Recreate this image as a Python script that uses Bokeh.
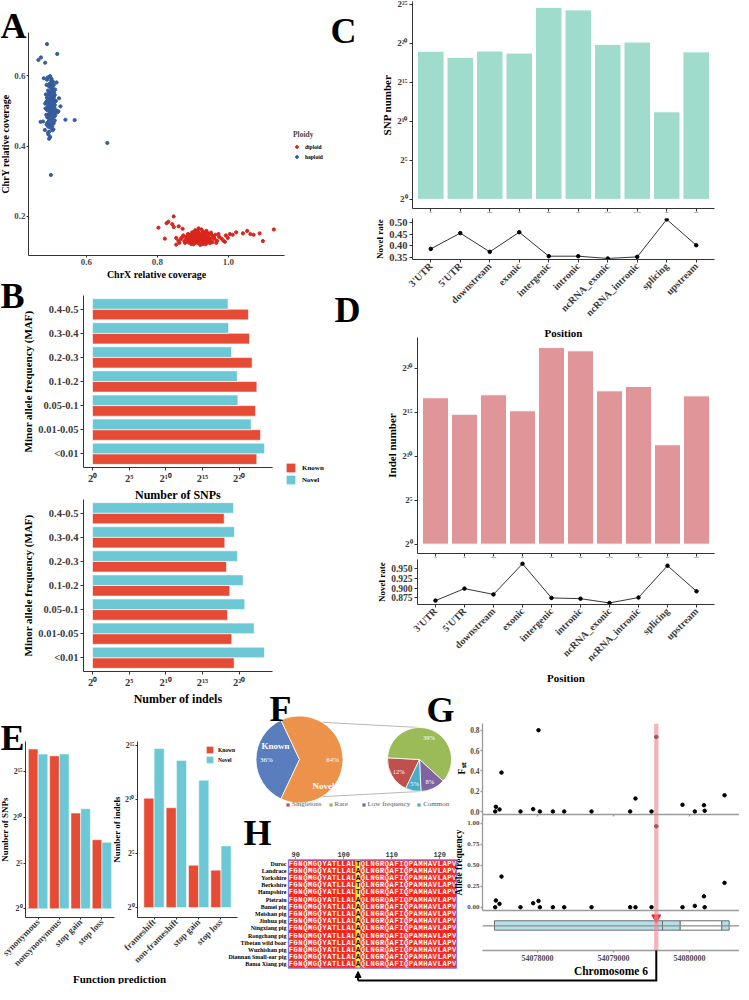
import math
from bokeh.plotting import figure
from bokeh.models import (Range1d, FactorRange, FixedTicker, Legend, LegendItem,
                          Arrow, NormalHead, BoxAnnotation, Span, ColumnDataSource,
                          PrintfTickFormatter)
from bokeh.layouts import column
from bokeh.transform import dodge
from bokeh.core.properties import value
from bokeh.embed import file_html
from bokeh.resources import INLINE

SERIF = "Liberation Serif"
MONO = "Liberation Mono"

# ---------------- Panel A data ----------------
HAPLOID_X = [0.497,0.503,0.491,0.508,0.495,0.501,0.489,0.512,0.499,0.505,
             0.493,0.507,0.496,0.502,0.488,0.510,0.494,0.500,0.506,0.492,
             0.498,0.504,0.490,0.511,0.496,0.503,0.487,0.509,0.495,0.501,
             0.493,0.506,0.499,0.485,0.514,0.497,0.502,0.490,0.508,0.494,
             0.500,0.505,0.492,0.498,0.511,0.489,0.503,0.496,0.507,0.493,
             0.499,0.504,0.491,0.510,0.497,0.486,0.502,0.495,0.508,0.500,
             0.494,0.506,0.490,0.503,0.498,0.512,0.493,0.501,0.488,0.505,
             0.497,0.509,0.492,0.500,0.504,0.496,0.491,0.507,0.499,0.494,
             0.502,0.515,0.489,0.498,0.506,0.493,0.501,0.510,0.495,0.503,
             0.487,0.508,0.497,0.492,0.504,0.500,0.518,0.496,0.511,0.484,
             0.471,0.478,0.521,0.527,0.541,0.567,0.659,0.500,0.489,0.472,
             0.465,0.484,0.518,0.523,0.480,0.516,0.483]
HAPLOID_Y = [0.512,0.498,0.535,0.521,0.478,0.556,0.503,0.487,0.529,0.467,
             0.548,0.541,0.493,0.582,0.461,0.509,0.571,0.452,0.563,0.519,
             0.487,0.531,0.544,0.473,0.597,0.515,0.526,0.553,0.441,0.504,
             0.468,0.489,0.576,0.507,0.528,0.459,0.539,0.482,0.574,0.523,
             0.495,0.445,0.558,0.536,0.517,0.589,0.476,0.549,0.501,0.433,
             0.566,0.457,0.512,0.493,0.525,0.547,0.591,0.472,0.538,0.518,
             0.501,0.583,0.466,0.543,0.426,0.561,0.490,0.533,0.574,0.509,
             0.551,0.484,0.529,0.462,0.569,0.507,0.595,0.448,0.543,0.516,
             0.478,0.502,0.537,0.599,0.528,0.455,0.587,0.531,0.421,0.491,
             0.489,0.465,0.578,0.438,0.552,0.536,0.496,0.533,0.545,0.521,
             0.469,0.470,0.499,0.513,0.475,0.474,0.409,0.318,0.690,0.652,
             0.645,0.637,0.662,0.536,0.593,0.581,0.446]
DIPLOID_X = [0.912,0.925,0.903,0.937,0.918,0.896,0.931,0.908,0.946,0.921,
             0.889,0.914,0.928,0.953,0.899,0.935,0.917,0.881,0.942,0.906,
             0.924,0.961,0.893,0.929,0.911,0.873,0.948,0.919,0.902,0.938,
             0.915,0.884,0.932,0.957,0.897,0.926,0.909,0.866,0.944,0.921,
             0.891,0.934,0.968,0.905,0.916,0.878,0.940,0.923,0.899,0.951,
             0.913,0.930,0.886,0.947,0.907,0.974,0.920,0.894,0.936,0.859,
             0.927,0.901,0.955,0.918,0.882,0.943,0.910,0.933,0.963,0.895,
             0.924,0.869,0.939,0.904,0.981,0.916,0.928,0.890,0.950,0.912,
             0.876,0.935,0.921,0.959,0.898,0.941,0.907,0.929,0.888,0.966,
             0.853,0.931,0.915,0.945,0.902,0.986,0.919,0.883,0.937,0.972,
             0.803,0.821,0.826,0.831,0.846,0.842,0.846,0.860,0.871,1.004,
             1.012,1.022,1.041,1.053,1.062,1.071,1.088,1.097,1.128,0.993,
             0.998,0.990,0.853,0.862]
DIPLOID_Y = [0.141,0.135,0.148,0.129,0.152,0.133,0.144,0.126,0.138,0.131,
             0.142,0.158,0.122,0.147,0.137,0.151,0.127,0.139,0.133,0.145,
             0.163,0.136,0.128,0.139,0.134,0.146,0.124,0.146,0.121,0.159,
             0.137,0.131,0.127,0.142,0.154,0.148,0.139,0.136,0.149,0.119,
             0.147,0.136,0.131,0.132,0.166,0.125,0.143,0.128,0.143,0.154,
             0.125,0.155,0.150,0.131,0.161,0.142,0.142,0.137,0.121,0.131,
             0.133,0.128,0.127,0.135,0.143,0.140,0.152,0.131,0.148,0.122,
             0.144,0.140,0.126,0.139,0.137,0.130,0.157,0.133,0.135,0.147,
             0.130,0.140,0.124,0.140,0.149,0.153,0.135,0.129,0.126,0.125,
             0.139,0.150,0.143,0.128,0.156,0.131,0.139,0.135,0.134,0.150,
             0.168,0.137,0.181,0.185,0.200,0.178,0.170,0.172,0.165,0.150,
             0.148,0.155,0.152,0.159,0.150,0.148,0.152,0.130,0.163,0.146,
             0.139,0.128,0.120,0.125]
A_XTICKS = [0.6, 0.8, 1.0]
A_YTICKS = [0.2, 0.4, 0.6]

# ---------------- Panel B data ----------------
MAF_BINS = ["<0.01", "0.01-0.05", "0.05-0.1", "0.1-0.2", "0.2-0.3", "0.3-0.4", "0.4-0.5"]
SNP_MAF_KNOWN = [5580000, 7936000, 4953000, 5640000, 3601000, 2806000, 2546000]
SNP_MAF_NOVEL = [11700000, 3314000, 938500, 881700, 517100, 389200, 370700]
INDEL_MAF_KNOWN = [659000, 524300, 350700, 434800, 318300, 271400, 256800]
INDEL_MAF_NOVEL = [11618000, 4373000, 1800000, 1546000, 900300, 677600, 619000]

# ---------------- Panels C / D data ----------------
REGIONS = ["3'UTR", "5'UTR", "downstream", "exonic", "intergenic", "intronic",
           "ncRNA_exonic", "ncRNA_intronic", "splicing", "upstream"]
SNP_REGION_COUNT = [518900, 301100, 526400, 437800, 25430000, 20230000, 951600, 1163000, 2385, 489200]
SNP_NOVEL_RATE = [0.386, 0.455, 0.373, 0.459, 0.354, 0.354, 0.344, 0.351, 0.515, 0.402]
INDEL_REGION_COUNT = [102100, 27940, 129300, 36600, 5346000, 4137000, 176600, 248000, 2521, 118900]
INDEL_NOVEL_RATE = [0.868, 0.899, 0.884, 0.963, 0.875, 0.873, 0.862, 0.876, 0.958, 0.892]

# ---------------- Panel E data ----------------
SNP_FUNC = ["synonymous", "nonsynonymous", "stop gain", "stop loss"]
SNP_FUNC_KNOWN = [179000, 106400, 1400, 186]
SNP_FUNC_NOVEL = [121800, 123500, 1960, 153]
INDEL_FUNC = ["frameshift", "non-frameshift", "stop gain", "stop loss"]
INDEL_FUNC_KNOWN = [1100, 600, 15, 11]
INDEL_FUNC_NOVEL = [26600, 12400, 3490, 52]

# ---------------- Panel F data ----------------
F_MAIN_LABELS = ["Known", "Novel"]
F_MAIN_PCT = [36, 64]
F_SUB_LABELS = ["Singletons", "Rare", "Low frequency", "Common"]
F_SUB_PCT = [12, 39, 8, 5]

# ---------------- Panel G data ----------------
G_POS = [54077443, 54077452, 54077500, 54077526, 54077776, 54077943, 54078013, 54078031,
         54078202, 54078351, 54078711, 54079219, 54079289, 54079500, 54079563, 54079908,
         54080070, 54080190, 54080200, 54080461]
G_FST = [0.0, 0.046, 0.02, 0.383, 0.0, 0.023, 0.8, 0.0, 0.0, 0.0, 0.0, 0.0, 0.128, 0.0,
         0.734, 0.066, 0.0, 0.062, 0.007, 0.16]
G_AF = [0.0, 0.08, 0.04, 0.365, 0.0, 0.048, 0.075, 0.0, 0.0, 0.0, 0.0, 0.0, 0.0, 0.0,
        0.964, 0.0, 0.016, 0.13, 0.0, 0.29]
G_TICKS = [54078000, 54079000, 54080000]
G_XLIM = [54077276, 54080658]
HIGHLIGHT_POS = 54079563
GENE_STARTS = [54077434, 54079645, 54079878, 54080425]
GENE_ENDS = [54079645, 54079878, 54080425, 54080522]
GENE_KIND = ["coding", "coding", "utr", "coding"]

# ---------------- Panel H data ----------------
H_NAMES = ["Duroc", "Landrace", "Yorkshire", "Berkshire", "Hampshire", "Pietrain",
           "Bamei pig", "Meishan pig", "Jinhua pig", "Ningxiang pig", "Rongchang pig",
           "Tibetan wild boar", "Wuzhishan pig", "Diannan Small-ear pig", "Bama Xiang pig"]
H_ALLELE = ["T", "A", "A", "T", "T", "A", "A", "A", "A", "A", "A", "A", "A", "A", "A"]
H_SEQ_LEFT = "FGNQMGQYATLLAL"
H_SEQ_RIGHT = "QLNGRQAFIQPAMHAVLAPV"
H_FIRST = 89
H_SITE = 103
H_TICKS = [90, 100, 110, 120]

# ---------------- helpers ----------------
SUP = str.maketrans("0123456789", "\u2070\u00b9\u00b2\u00b3\u2074\u2075\u2076\u2077\u2078\u2079")


def pow2(e):
    return "2" + str(e).translate(SUP)


KNOWN_C = "#E64B35"
NOVEL_C = "#6CC8D5"
DIP_C = "#D9261C"
HAP_C = "#365C9E"
TICK_C = "#3A3A3A"
AXIS_C = "#333333"
GAX_C = "#9A9A9A"

PLACED = []   # (figure, canvas_left, canvas_top, width, height) in page pixels


def mk(frame, borders, **kw):
    """frame = (left, top, right, bottom) of the plotting area on the page;
    borders = generous (left, top, right, bottom) padding around it."""
    fl, ft, fr, fb = frame
    bl, bt, br, bb = borders
    w = fr - fl + bl + br
    h = fb - ft + bt + bb
    p = figure(width=w, height=h, output_backend="svg", toolbar_location=None, title=None,
               frame_align=False, min_border_left=bl, min_border_right=br,
               min_border_top=bt, min_border_bottom=bb, **kw)
    p.outline_line_color = None
    p.background_fill_color = None
    p.border_fill_color = None
    p.grid.visible = False
    PLACED.append((p, fl - bl, ft - bt, w, h))
    return p


def sty(ax, tick="9px", lab="11px", tick_color=TICK_C, line=AXIS_C, lw=1.0, out=3, std=2, lstd=3):
    ax.axis_line_color = line
    ax.axis_line_width = lw
    ax.major_tick_line_color = line
    ax.major_tick_line_width = lw
    ax.major_tick_in = 0
    ax.major_tick_out = out
    ax.minor_tick_line_color = None
    ax.major_label_text_font = SERIF
    ax.major_label_text_font_style = "bold"
    ax.major_label_text_font_size = tick
    ax.major_label_text_color = tick_color
    ax.major_label_standoff = std
    ax.axis_label_text_font = SERIF
    ax.axis_label_text_font_style = "bold"
    ax.axis_label_text_font_size = lab
    ax.axis_label_text_color = "black"
    ax.axis_label_standoff = lstd


def pow2_ticks(ax, exps):
    ticks = [2 ** e for e in exps]
    ax.ticker = FixedTicker(ticks=ticks)
    ax.major_label_overrides = {t: pow2(e) for t, e in zip(ticks, exps)}


def hide_labels(ax, keys):
    ax.major_label_overrides = {k: "" for k in keys}
    ax.major_label_text_font_size = "1px"
    ax.major_label_standoff = 0


def make_legend(items, loc, glyph=11, font="7px", spacing=1, standoff=5,
                orientation="vertical", color="black", style="bold"):
    return Legend(items=items, location=loc, orientation=orientation,
                  glyph_width=glyph, glyph_height=glyph, label_height=glyph,
                  label_text_font=SERIF, label_text_font_style=style,
                  label_text_font_size=font, label_text_color=color,
                  spacing=spacing, label_standoff=standoff, padding=0, margin=0,
                  border_line_color=None, background_fill_color=None)


# ================= Panel A =================
pA = mk((36, 40, 292, 263), (60, 40, 50, 50),
        x_range=Range1d(0.437, 1.158), y_range=Range1d(0.089, 0.723))
pA.scatter(x=DIPLOID_X, y=DIPLOID_Y, size=3.2, color=DIP_C)
pA.scatter(x=HAPLOID_X, y=HAPLOID_Y, size=3.2, color=HAP_C)
pA.xaxis[0].ticker = FixedTicker(ticks=A_XTICKS)
pA.yaxis[0].ticker = FixedTicker(ticks=A_YTICKS)
pA.xaxis[0].axis_label = "ChrX relative coverage"
pA.yaxis[0].axis_label = "ChrY relative coverage"
pA.xaxis[0].formatter = PrintfTickFormatter(format="%.1f")
pA.yaxis[0].formatter = PrintfTickFormatter(format="%.1f")
sty(pA.xaxis[0], tick="9px", lab="10px", tick_color="#4D4D4D", out=2, std=1, lstd=1)
sty(pA.yaxis[0], tick="9px", lab="10px", tick_color="#4D4D4D", out=2, std=1, lstd=0)


# ================= Panel B =================
def maf_plot(frame, borders, known, novel, xlabel):
    p = mk(frame, borders, x_axis_type="log",
           x_range=Range1d(2 ** -1.23, 2 ** 24.56),
           y_range=FactorRange(factors=MAF_BINS, range_padding=0.02))
    src = ColumnDataSource(dict(maf=MAF_BINS, known=known, novel=novel))
    p.hbar(y=dodge("maf", -0.22, range=p.y_range), left=1, right="known", height=0.44,
           fill_color=KNOWN_C, line_color="white", line_width=0.6, source=src)
    p.hbar(y=dodge("maf", 0.22, range=p.y_range), left=1, right="novel", height=0.44,
           fill_color=NOVEL_C, line_color="white", line_width=0.6, source=src)
    pow2_ticks(p.xaxis[0], [0, 5, 10, 15, 20])
    p.xaxis[0].axis_label = xlabel
    p.yaxis[0].axis_label = "Minor allele frequency (MAF)"
    sty(p.xaxis[0], tick="10.5px", lab="12px", lstd=1)
    sty(p.yaxis[0], tick="10.5px", lab="11px", lstd=1)
    return p


pBs = maf_plot((91, 303, 280, 475), (91, 5, 20, 45), SNP_MAF_KNOWN, SNP_MAF_NOVEL, "Number of SNPs")
pBi = maf_plot((91, 507, 280, 679), (91, 5, 20, 40), INDEL_MAF_KNOWN, INDEL_MAF_NOVEL, "Number of indels")


# ================= Panels C / D =================
def region_bar(frame, borders, counts, yexp, exps, color, ylabel):
    p = mk(frame, borders,
           x_range=FactorRange(factors=REGIONS, range_padding=0.024),
           y_axis_type="log", y_range=Range1d(2 ** yexp[0], 2 ** yexp[1]))
    p.vbar(x=REGIONS, top=counts, bottom=1, width=0.9, fill_color=color,
           line_color="white", line_width=1)
    pow2_ticks(p.yaxis[0], exps)
    p.yaxis[0].axis_label = ylabel
    sty(p.yaxis[0], tick="9px", lab="11px", lstd=1)
    sty(p.xaxis[0], tick="1px")
    hide_labels(p.xaxis[0], REGIONS)
    return p


def region_rate(frame, borders, rates, yr, ticks, fmt, tick_size):
    p = mk(frame, borders,
           x_range=FactorRange(factors=REGIONS, range_padding=0.024),
           y_range=Range1d(yr[0], yr[1]))
    p.line(x=REGIONS, y=rates, line_color="black", line_width=0.8)
    p.scatter(x=REGIONS, y=rates, size=3.5, color="black")
    p.yaxis[0].ticker = FixedTicker(ticks=ticks)
    p.yaxis[0].formatter = PrintfTickFormatter(format=fmt)
    p.yaxis[0].axis_label = "Novel rate"
    p.xaxis[0].axis_label = "Position"
    sty(p.yaxis[0], tick=tick_size, lab="9px", lstd=1)
    sty(p.xaxis[0], tick="10px", lab="11px", lstd=2)
    p.xaxis[0].major_label_orientation = math.pi / 4
    return p


pCb = region_bar((420, 9, 722, 216), (80, 9, 25, 10), SNP_REGION_COUNT, (-1.17, 25.35),
                 [0, 5, 10, 15, 20, 25], "#9FDCCC", "SNP number")
pCr = region_rate((420, 226, 722, 267), (80, 4, 25, 90), SNP_NOVEL_RATE, (0.3395, 0.519),
                  [0.35, 0.40, 0.45, 0.50], "%.2f", "10.5px")
pDb = region_bar((425, 345, 722, 561), (85, 5, 25, 8), INDEL_REGION_COUNT, (-1.06, 23.49),
                 [0, 5, 10, 15, 20], "#E09599", "Indel number")
pDr = region_rate((425, 567, 722, 612), (85, 3, 25, 90), INDEL_NOVEL_RATE, (0.858, 0.974),
                  [0.875, 0.900, 0.925, 0.950], "%.3f", "9.5px")


# ================= Panel E =================
def func_plot(frame, borders, cats, known, novel, yexp, exps, ylabel, pad):
    p = mk(frame, borders,
           x_range=FactorRange(factors=cats, range_padding=pad),
           y_axis_type="log", y_range=Range1d(2 ** yexp[0], 2 ** yexp[1]))
    src = ColumnDataSource(dict(cat=cats, known=known, novel=novel))
    rk = p.vbar(x=dodge("cat", -0.23, range=p.x_range), top="known", bottom=1, width=0.45,
                fill_color=KNOWN_C, line_color="white", line_width=0.5, source=src)
    rn = p.vbar(x=dodge("cat", 0.23, range=p.x_range), top="novel", bottom=1, width=0.45,
                fill_color=NOVEL_C, line_color="white", line_width=0.5, source=src)
    pow2_ticks(p.yaxis[0], exps)
    p.yaxis[0].axis_label = ylabel
    sty(p.yaxis[0], tick="8px", lab="9px", out=2, std=1, lstd=0)
    sty(p.xaxis[0], tick="9px", out=2, std=1)
    p.xaxis[0].major_label_orientation = math.pi / 4
    return p, rk, rn


pEl, _, _ = func_plot((33, 749, 122, 925), (60, 10, 5, 67), SNP_FUNC, SNP_FUNC_KNOWN,
                      SNP_FUNC_NOVEL, (-0.95, 18.27), [0, 5, 10, 15], "Number of SNPs", 0.045)
pEr, rk_e, rn_e = func_plot((145, 749, 245, 925), (40, 10, 5, 67), INDEL_FUNC, INDEL_FUNC_KNOWN,
                            INDEL_FUNC_NOVEL, (-0.92, 15.35), [0, 5, 10, 15],
                            "Number of indels", 0.12)
pEr.add_layout(make_legend([LegendItem(label="Known", renderers=[rk_e]),
                            LegendItem(label="Novel", renderers=[rn_e])],
                           (68, 153), glyph=9, font="5.5px", spacing=1, standoff=4))

# ================= Panel F (pie of pie) =================
pF = mk((235, 690, 464, 818), (0, 0, 0, 0),
        x_range=Range1d(235, 464), y_range=Range1d(-818, -690),
        x_axis_location=None, y_axis_location=None)
BIG_C = (307, -767)
BIG_R = 43.5
SMALL_C = (427, -767)
SMALL_R = 32
SMALL_START = math.radians(177)
SMALL_DRAW_ORDER = [1, 2, 3, 0]
F_MAIN_COLORS = ["#5A7EBD", "#EC924B"]
F_SUB_COLORS = ["#C0504D", "#9BBB59", "#8064A2", "#4BACC6"]
NAME_DY = [14, -26]

tot = float(sum(F_MAIN_PCT))
kspan = F_MAIN_PCT[0] / tot * 2 * math.pi
big_start = [math.pi - kspan / 2, math.pi + kspan / 2]
big_end = [math.pi + kspan / 2, math.pi - kspan / 2 + 2 * math.pi]

cx0 = [BIG_C[0] + BIG_R * math.cos(a) for a in (big_start[0], big_end[0])]
cy0 = [BIG_C[1] + BIG_R * math.sin(a) for a in (big_start[0], big_end[0])]
pF.segment(x0=cx0, y0=cy0, x1=[SMALL_C[0], SMALL_C[0]],
           y1=[SMALL_C[1] + SMALL_R, SMALL_C[1] - SMALL_R], line_color="#A6A6A6", line_width=0.8)
pF.wedge(x=BIG_C[0], y=BIG_C[1], radius=BIG_R, start_angle=big_start, end_angle=big_end,
         fill_color=F_MAIN_COLORS, line_color="white", line_width=0.8)

stot = float(sum(F_SUB_PCT))
s_start = [0.0] * len(F_SUB_PCT)
s_end = [0.0] * len(F_SUB_PCT)
ang = SMALL_START
for i in SMALL_DRAW_ORDER:
    span = F_SUB_PCT[i] / stot * 2 * math.pi
    s_start[i] = ang
    s_end[i] = ang - span
    ang -= span
srcS = ColumnDataSource(dict(start=s_start, end=s_end, color=F_SUB_COLORS))
rS = pF.wedge(x=SMALL_C[0], y=SMALL_C[1], radius=SMALL_R, start_angle="start", end_angle="end",
              direction="clock", fill_color="color", line_color="white", line_width=0.8, source=srcS)

mids_big = [(s + e) / 2 for s, e in zip(big_start, big_end)]
pF.text(x=[BIG_C[0] + 0.76 * BIG_R * math.cos(m) for m in mids_big],
        y=[BIG_C[1] + 0.76 * BIG_R * math.sin(m) for m in mids_big],
        text=["%d%%" % v for v in F_MAIN_PCT], text_color="white", text_align="center",
        text_baseline="middle", text_font=value(SERIF), text_font_size="7px")
pF.text(x=[BIG_C[0] + 0.55 * BIG_R * math.cos(m) for m in mids_big],
        y=[BIG_C[1] + 0.55 * BIG_R * math.sin(m) + dy for m, dy in zip(mids_big, NAME_DY)],
        text=F_MAIN_LABELS, text_color="white", text_align="center", text_baseline="middle",
        text_font=value(SERIF), text_font_size="9px", text_font_style=value("bold"))
mids_small = [(s + e) / 2 for s, e in zip(s_start, s_end)]
pF.text(x=[SMALL_C[0] + 0.76 * SMALL_R * math.cos(m) for m in mids_small],
        y=[SMALL_C[1] + 0.76 * SMALL_R * math.sin(m) for m in mids_small],
        text=["%d%%" % v for v in F_SUB_PCT], text_color="white", text_align="center",
        text_baseline="middle", text_font=value(SERIF), text_font_size="6.5px")
legF = make_legend([LegendItem(label=lab, renderers=[rS], index=i) for i, lab in enumerate(F_SUB_LABELS)],
                   (58, 2), glyph=5, font="7px", spacing=6, standoff=2, orientation="horizontal",
                   color="#595959", style="normal")
legF.label_height = 7
pF.add_layout(legF)

# ================= Panel H (alignment) =================
nres = len(H_SEQ_LEFT) + 1 + len(H_SEQ_RIGHT)
nrow = len(H_NAMES)
HF_L, HF_R = 295, 465
H_PAD = 0.2
pH = mk((HF_L, 866, HF_R, 977), (70, 40, 10, 10),
        x_range=Range1d(H_FIRST - 0.5 - H_PAD, H_FIRST + nres - 0.5 + H_PAD),
        y_range=Range1d(-0.5 - H_PAD, nrow - 0.5 + H_PAD),
        x_axis_location="above")
xs, ys, txt, fills, tcol = [], [], [], [], []
for r, name in enumerate(H_NAMES):
    seq = H_SEQ_LEFT + H_ALLELE[r] + H_SEQ_RIGHT
    for j, ch in enumerate(seq):
        pos = H_FIRST + j
        hl = pos == H_SITE
        xs.append(pos)
        ys.append(nrow - 1 - r)
        txt.append(ch)
        fills.append("#F2EC3A" if hl else "#F5251C")
        tcol.append("black" if hl else "white")
pH.rect(x=xs, y=ys, width=1, height=1, fill_color=fills, line_color=fills, line_width=0.3)
pH.text(x=xs, y=ys, text=txt, text_color=tcol, text_align="center", text_baseline="middle",
        text_font=value(MONO), text_font_size="7px", text_font_style=value("bold"))
pH.quad(left=[H_FIRST - 0.5], right=[H_FIRST + nres - 0.5], bottom=[-0.5], top=[nrow - 0.5],
        fill_color=None, line_color="#7F78EE", line_width=1.3)
pH.xaxis[0].ticker = FixedTicker(ticks=H_TICKS)
sty(pH.xaxis[0], tick="7px", out=1, std=1)
pH.xaxis[0].major_label_text_font = MONO
pH.xaxis[0].axis_line_color = None
pH.yaxis[0].ticker = FixedTicker(ticks=list(range(nrow)))
pH.yaxis[0].major_label_overrides = {nrow - 1 - r: n for r, n in enumerate(H_NAMES)}
sty(pH.yaxis[0], tick="6px", tick_color="black", out=0, std=1)
pH.yaxis[0].axis_line_color = None
pH.yaxis[0].major_tick_line_color = None

# ================= Panel G =================
GF_L, GF_R = 490, 747
GX = Range1d(G_XLIM[0], G_XLIM[1])
BAND_HALF = 28


def band(p):
    p.add_layout(BoxAnnotation(left=HIGHLIGHT_POS - BAND_HALF, right=HIGHLIGHT_POS + BAND_HALF,
                               fill_color="#F08A92", fill_alpha=0.65, line_color=None))


pGf = mk((GF_L, 731, GF_R, 822), (40, 10, 0, 20), x_range=GX, y_range=Range1d(-0.0295, 0.866))
pGf.scatter(x=G_POS, y=G_FST, size=3.5, color="black")
band(pGf)
pGf.xaxis[0].ticker = FixedTicker(ticks=G_TICKS)
sty(pGf.xaxis[0], tick="1px", line=GAX_C, lw=1.3, out=2)
hide_labels(pGf.xaxis[0], G_TICKS)
pGf.yaxis[0].ticker = FixedTicker(ticks=[0.0, 0.2, 0.4, 0.6, 0.8])
pGf.yaxis[0].formatter = PrintfTickFormatter(format="%.1f")
pGf.yaxis[0].axis_label = "F\u209b\u209c"
sty(pGf.yaxis[0], tick="7.5px", lab="10px", tick_color="#4D4D4D", line=GAX_C, lw=1.3, out=2, std=1, lstd=0)

pGa = mk((GF_L, 822, GF_R, 918), (60, 5, 0, 10), x_range=GX, y_range=Range1d(-0.039, 1.104))
pGa.scatter(x=G_POS, y=G_AF, size=3.5, color="black")
band(pGa)
pGa.xaxis[0].ticker = FixedTicker(ticks=G_TICKS)
sty(pGa.xaxis[0], tick="1px", line=GAX_C, lw=1.3, out=0)
pGa.xaxis[0].major_tick_line_color = None
hide_labels(pGa.xaxis[0], G_TICKS)
pGa.yaxis[0].ticker = FixedTicker(ticks=[0.0, 0.25, 0.5, 0.75, 1.0])
pGa.yaxis[0].formatter = PrintfTickFormatter(format="%.2f")
pGa.yaxis[0].axis_label = "Allele frequency"
sty(pGa.yaxis[0], tick="7px", lab="9.5px", tick_color="#4D4D4D", line=GAX_C, lw=1.3, out=2, std=1, lstd=0)

GENE_LINE_Y = 0.618
GENE_BOTTOM = 0.508
GENE_TOP = 0.743
TRI_Y = 0.825
GG_FB = 958
pGg = mk((GF_L, 918, GF_R, GG_FB), (10, 5, 0, 34), x_range=GX, y_range=Range1d(0, 1),
         y_axis_location=None)
pGg.add_layout(Span(location=GENE_LINE_Y, dimension="width", line_color="#8C8C8C", line_width=1.3))
pGg.quad(left=GENE_STARTS, right=GENE_ENDS, bottom=GENE_BOTTOM, top=GENE_TOP,
         fill_color=["#B3DFE6" if k == "coding" else "white" for k in GENE_KIND],
         line_color="#6E6E6E", line_width=1)
band(pGg)
pGg.scatter(x=[HIGHLIGHT_POS], y=[TRI_Y], marker="inverted_triangle", size=9, color="#E8232A")
pGg.xaxis[0].ticker = FixedTicker(ticks=G_TICKS)
pGg.xaxis[0].formatter = PrintfTickFormatter(format="%d")
pGg.xaxis[0].axis_label = "Chromosome 6"
sty(pGg.xaxis[0], tick="8px", lab="11.5px", tick_color="#4D4D4D", line=GAX_C, lw=1.3, out=2, lstd=1)

# ================= overlay (panel letters, outside legends, connector arrow) =================
ov = mk((8, 8, 747, 992), (0, 0, 0, 0), x_range=Range1d(8, 747), y_range=Range1d(-992, -8),
        x_axis_location=None, y_axis_location=None)

LETTERS = ["A", "B", "C", "D", "E", "F", "G", "H"]
LETTER_X = [8, 8, 338, 342, 8, 277, 434, 251]
LETTER_BASE = [33, 303, 38, 317, 745, 716, 717, 840]
ov.text(x=LETTER_X, y=[-b for b in LETTER_BASE], text=LETTERS, text_font=value(SERIF),
        text_font_style=value("bold"), text_font_size="36px", text_baseline="alphabetic",
        text_align="left", text_color="black")
ov.text(x=[127], y=[-986], text=["Function prediction"], text_font=value(SERIF),
        text_font_style=value("bold"), text_font_size="11px", text_baseline="middle",
        text_align="center", text_color="black")

nan = float("nan")
px_dip = ov.scatter(x=[nan], y=[nan], size=3, color=DIP_C)
px_hap = ov.scatter(x=[nan], y=[nan], size=3, color=HAP_C)
px_kn = ov.quad(left=[nan], right=[nan], bottom=[nan], top=[nan], fill_color=KNOWN_C, line_color=None)
px_nv = ov.quad(left=[nan], right=[nan], bottom=[nan], top=[nan], fill_color=NOVEL_C, line_color=None)

legA = make_legend([LegendItem(label="diploid", renderers=[px_dip]),
                    LegendItem(label="haploid", renderers=[px_hap])],
                   (293, 824), glyph=7, font="5.5px", spacing=3, standoff=5)
legA.title = "Ploidy"
legA.title_text_font = SERIF
legA.title_text_font_style = "bold"
legA.title_text_font_size = "7.5px"
legA.title_standoff = 4
ov.add_layout(legA)
ov.add_layout(make_legend([LegendItem(label="Known", renderers=[px_kn]),
                           LegendItem(label="Novel", renderers=[px_nv])],
                          (285, 499), glyph=11, font="7px", spacing=1, standoff=6))

ARROW_Y = 988
gx = GF_L + (HIGHLIGHT_POS - G_XLIM[0]) / (G_XLIM[1] - G_XLIM[0]) * (GF_R - GF_L)
h_lo = H_FIRST - 0.5 - H_PAD
hx = HF_L + (H_SITE - h_lo) / (nres + 2 * H_PAD) * (HF_R - HF_L)
ov.line(x=[gx, gx, hx], y=[-GG_FB, -ARROW_Y, -ARROW_Y], line_width=2, line_color="black",
        line_join="miter")
ov.add_layout(Arrow(end=NormalHead(size=6, fill_color="black", line_color="black"),
                    x_start=hx, y_start=-ARROW_Y, x_end=hx, y_end=-979,
                    line_width=2, line_color="black"))

# ================= absolute placement inside one column =================
children = []
flow = 8
for p, cx, cy, w, h in PLACED:
    p.margin = (int(cy - flow), 0, 0, int(cx - 8))
    flow = cy + h
    children.append(p)
layout = column(children, spacing=0)

open("out.html", "w").write(file_html(layout, INLINE, "Genomic variation figure"))
